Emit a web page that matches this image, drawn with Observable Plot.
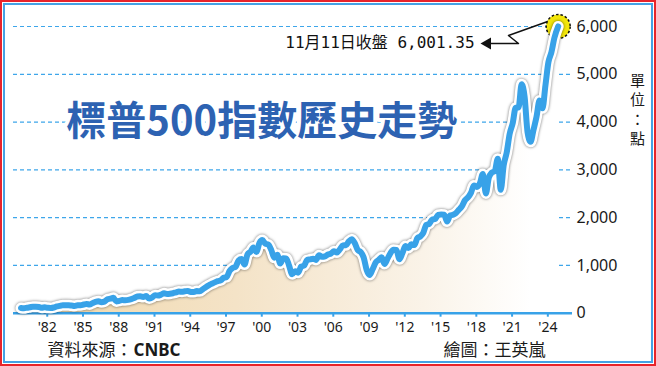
<!DOCTYPE html>
<html>
<head>
<meta charset="utf-8">
<script src="https://cdn.jsdelivr.net/npm/d3@7"></script>
<script src="https://cdn.jsdelivr.net/npm/@observablehq/plot@0.6"></script>
<style>
html, body { margin: 0; padding: 0; background: #fff; }
#wrap { position: relative; width: 656px; height: 366px; overflow: hidden; background: #fff; }
#chart { position: absolute; left: 0; top: 0; }
#red { position: absolute; left: 0; top: 0; width: 656px; height: 366px; box-sizing: border-box; border: 2px solid #e8242b; pointer-events: none; }
#blue { position: absolute; left: 3px; top: 3px; width: 650px; height: 360px; box-sizing: border-box; border: 2px solid #45a2e4; pointer-events: none; }
</style>
</head>
<body>
<div id="wrap"><div id="chart"></div><div id="red"></div><div id="blue"></div></div>
<script>
// ---- data ----
const title = "標普500指數歷史走勢";
const unitLabel = "單\n位\n：\n點";
const sourceLabel = "資料來源：";
const sourceName = "CNBC";
const creditLabel = "繪圖：王英嵐";
const noteLabel = "11月11日收盤 6,001.35";

// quarterly closes, first point at the end of 1979
const firstQuarter = 1979.8;
const closes = [
  108,
  102, 115, 125, 136,
  136, 131, 116, 122,
  112, 110, 120, 141,
  153, 168, 166, 165,
  159, 153, 166, 167,
  181, 192, 182, 211,
  238, 251, 231, 242,
  291, 304, 321, 247,
  259, 274, 272, 278,
  295, 318, 349, 353,
  339, 358, 306, 330,
  375, 371, 388, 417,
  404, 408, 418, 436,
  452, 451, 459, 466,
  446, 444, 463, 459,
  501, 545, 584, 616,
  645, 671, 687, 741,
  757, 885, 947, 970,
  1102, 1134, 1017, 1229,
  1286, 1373, 1283, 1469,
  1530, 1455, 1437, 1320,
  1160, 1224, 1041, 1148,
  1147, 990, 815, 880,
  848, 975, 996, 1112,
  1126, 1141, 1115, 1212,
  1181, 1191, 1229, 1248,
  1295, 1270, 1336, 1418,
  1421, 1503, 1550, 1468,
  1323, 1280, 1166, 903,
  798, 919, 1057, 1115,
  1169, 1031, 1141, 1258,
  1326, 1321, 1131, 1258,
  1408, 1362, 1441, 1426,
  1569, 1606, 1682, 1848,
  1872, 1960, 1972, 2059,
  2068, 2063, 1920, 2044,
  2060, 2099, 2168, 2239,
  2363, 2423, 2519, 2674,
  2641, 2718, 2914, 2507,
  2834, 2942, 2977, 3231,
  2585, 3100, 3363, 3756,
  3973, 4298, 4308, 4790,
  4530, 3785, 3586, 3840,
  4109, 4450, 4288, 4770,
  5254, 5460, 5762
];
const lastDate = 2024.87;
const lastClose = 6001.35;

const xTicks = [1982, 1985, 1988, 1991, 1994, 1997, 2000, 2003, 2006, 2009, 2012, 2015, 2018, 2021, 2024];
const yTicks = [0, 1000, 2000, 3000, 4000, 5000, 6000];
const gridTicks = [1000, 2000, 3000, 4000, 5000, 6000];

// annotation leader (years, index points)
const leaderX = [2018.94, 2021.54, 2020.70, 2024.22];
const leaderY = [5645, 5645, 5812, 6126];
const titleAt = {x: 2000, y: 4000};
const noteAt = {x: 2017.85, y: 5650};

// ---- build ----
const series = closes.map((v, i) => ({date: firstQuarter + i * 0.25, close: v}));
series.push({date: lastDate, close: lastClose});
const lastPoint = [{date: lastDate, close: lastClose}];
const leader = leaderX.map((x, i) => ({x, y: leaderY[i]}));

const blue = "#38a2e8";
const chart = Plot.plot({
  width: 656,
  height: 366,
  marginLeft: 13,
  marginRight: 84,
  marginTop: 26,
  marginBottom: 53.3,
  x: {domain: [1979.17, 2026.07], label: null},
  y: {domain: [0, 6000], label: null},
  style: {fontFamily: "'Noto Sans', 'Noto Sans CJK TC', sans-serif", fontSize: "14px", background: "transparent", overflow: "visible", color: "#1a1a1a"},
  marks: [
    Plot.gridY(gridTicks, {stroke: "#3ea6ea", strokeOpacity: 1, strokeWidth: 1.2, strokeDasharray: "4,3"}),
    Plot.areaY(series, {x: "date", y: "close", fill: "url(#sandFade)", curve: "monotone-x"}),
    Plot.ruleY([0], {stroke: blue, strokeWidth: 2.5}),
    Plot.axisX(xTicks, {tickSize: 4, stroke: blue, strokeWidth: 2, tickPadding: 5, tickFormat: d => "'" + String(d).slice(2), fill: "#1a1a1a", fontSize: 14}),
    Plot.axisY(yTicks, {anchor: "right", tickSize: 0, tickPadding: 4, tickFormat: d3.format(","), fill: "#1a1a1a", fontSize: 16}),
    Plot.text([titleAt], {x: "x", y: "y", text: () => title, fontFamily: "'Noto Sans CJK TC', sans-serif", fontWeight: 700, fontSize: 40, fill: "#2d62b2", stroke: "white", strokeWidth: 8}),
    Plot.line(leader, {x: "x", y: "y", stroke: "#111", strokeWidth: 1.5, curve: "linear"}),
    Plot.dot([leader[0]], {x: "x", y: "y", symbol: "triangle", r: 4.5, rotate: -90, fill: "#111", stroke: "none"}),
    Plot.text([noteAt], {x: "x", y: "y", text: () => noteLabel, textAnchor: "end", fontFamily: "'DejaVu Sans Mono', 'Noto Sans CJK TC', monospace", fontSize: 16, fill: "#111"}),
    Plot.dot(lastPoint, {x: "date", y: "close", r: 12, fill: "#f3e60a", stroke: "#111", strokeWidth: 1.5, strokeDasharray: "2.5,2"}),
    Plot.line(series, {x: "date", y: "close", stroke: "white", strokeWidth: 11, curve: "monotone-x"}),
    Plot.line(series, {x: "date", y: "close", stroke: blue, strokeWidth: 6, curve: "monotone-x"}),
    Plot.text([unitLabel], {frameAnchor: "right", dx: 65, dy: -61, text: d => d, textAnchor: "middle", lineAnchor: "middle", lineHeight: 1.3, fontFamily: "'Noto Sans CJK TC', sans-serif", fontSize: 15, fill: "#1a1a1a"}),
    Plot.text([sourceLabel], {frameAnchor: "bottom-left", dx: 34, dy: 37, text: d => d, textAnchor: "start", lineAnchor: "middle", fontFamily: "'Noto Sans CJK TC', sans-serif", fontSize: 17, fill: "#1a1a1a"}),
    Plot.text([sourceName], {frameAnchor: "bottom-left", dx: 120, dy: 37, text: d => d, textAnchor: "start", lineAnchor: "middle", fontFamily: "'Noto Sans', sans-serif", fontWeight: 700, fontSize: 17, fill: "#1a1a1a"}),
    Plot.text([creditLabel], {frameAnchor: "bottom-right", dx: -27, dy: 37, text: d => d, textAnchor: "end", lineAnchor: "middle", fontFamily: "'Noto Sans CJK TC', sans-serif", fontSize: 17, fill: "#1a1a1a"})
  ]
});

// gradient for the area and soft shadow for the line halo
const svg = d3.select(chart);
const grad = svg.insert("defs", ":first-child").append("linearGradient")
  .attr("id", "sandFade").attr("x1", 0).attr("x2", 1).attr("y1", 0).attr("y2", 0);
[[0, "#f1d8ab"], [0.4, "#f4e3c7"], [0.75, "#faf3e8"], [0.95, "#ffffff"]].forEach(([o, c]) =>
  grad.append("stop").attr("offset", o).attr("stop-color", c));
const lines = chart.querySelectorAll('g[aria-label="line"]');
if (lines.length >= 2) lines[1].style.filter = "drop-shadow(0px 0px 1.6px rgba(0,0,0,0.55))";

document.getElementById("chart").appendChild(chart);
</script>
</body>
</html>
